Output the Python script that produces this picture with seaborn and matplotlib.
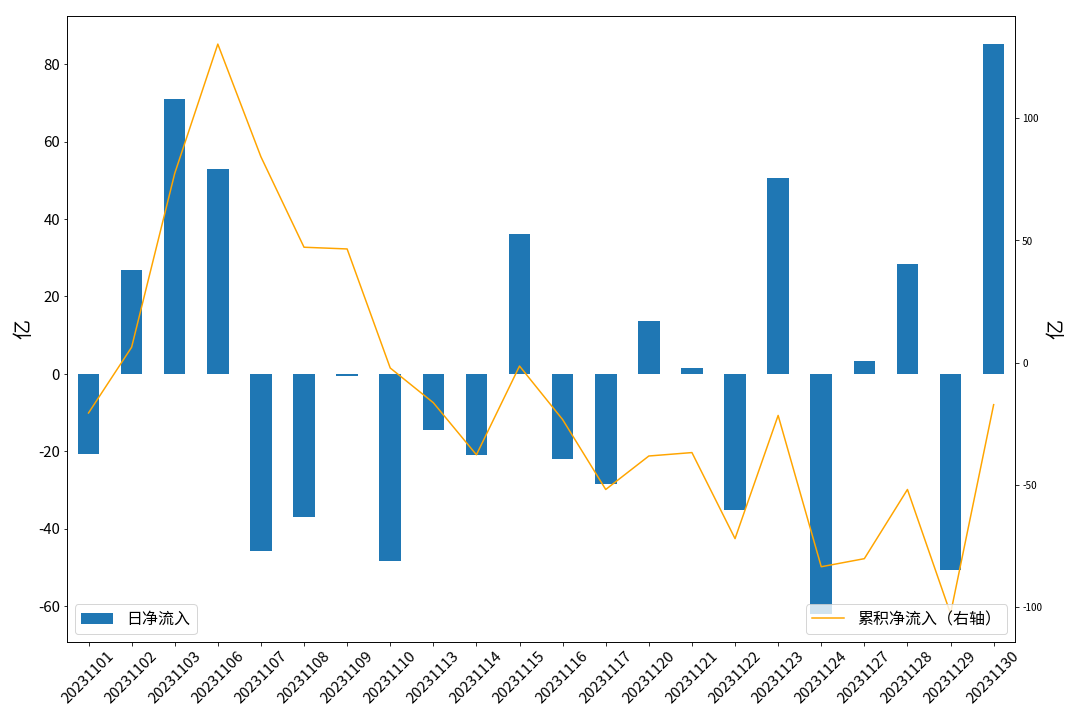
import numpy as np
import pandas as pd
import matplotlib
matplotlib.use('Agg')
import matplotlib.pyplot as plt
import seaborn as sns

plt.rcParams['font.family'] = ['Noto Sans CJK SC', 'DejaVu Sans']
plt.rcParams['axes.unicode_minus'] = False

# data
dates = ['20231101', '20231102', '20231103', '20231106', '20231107', '20231108',
         '20231109', '20231110', '20231113', '20231114', '20231115', '20231116',
         '20231117', '20231120', '20231121', '20231122', '20231123', '20231124',
         '20231127', '20231128', '20231129', '20231130']
daily_inflow = [-20.8, 26.9, 71.0, 52.8, -45.8, -37.1, -0.6, -48.5, -14.5, -21.0, 36.1,
                -21.9, -28.6, 13.7, 1.5, -35.3, 50.6, -62.0, 3.4, 28.4, -50.8, 85.2]
cum_inflow = [-20.6, 6.3, 77.4, 130.3, 84.2, 47.2, 46.5, -2.2, -16.4, -37.7, -1.4,
              -23.3, -51.9, -38.2, -36.8, -72.0, -21.6, -83.5, -80.2, -51.9, -102.7, -17.2]

df = pd.DataFrame({'date': dates, 'daily': daily_inflow, 'cum': cum_inflow})
df['pos'] = np.arange(len(df))

fig, ax = plt.subplots(figsize=(15, 10.06), dpi=72)
fig.subplots_adjust(left=0.062, right=0.94, top=0.978, bottom=0.113)

sns.barplot(data=df, x='date', y='daily', color='#1f77b4', saturation=1,
            width=0.5, linewidth=0, label='日净流入', ax=ax)
ax.set_xlabel('')
ax.set_ylabel('亿', fontsize=20)
ax.tick_params(axis='y', labelsize=15)
ax.tick_params(axis='x', labelsize=15, rotation=45)
ax.legend(loc='lower left', fontsize=16)

ax2 = ax.twinx()
sns.lineplot(data=df, x='pos', y='cum', color='orange', linewidth=1.5,
             label='累积净流入（右轴）', ax=ax2)
ax2.set_xlabel('')
ax2.set_ylabel('亿', fontsize=20)
ax2.tick_params(axis='y', labelsize=10)
ax2.legend(loc='lower right', fontsize=16)
ax.set_xlim(-0.5, len(df) - 0.5)

plt.savefig('out.png', dpi=72)
